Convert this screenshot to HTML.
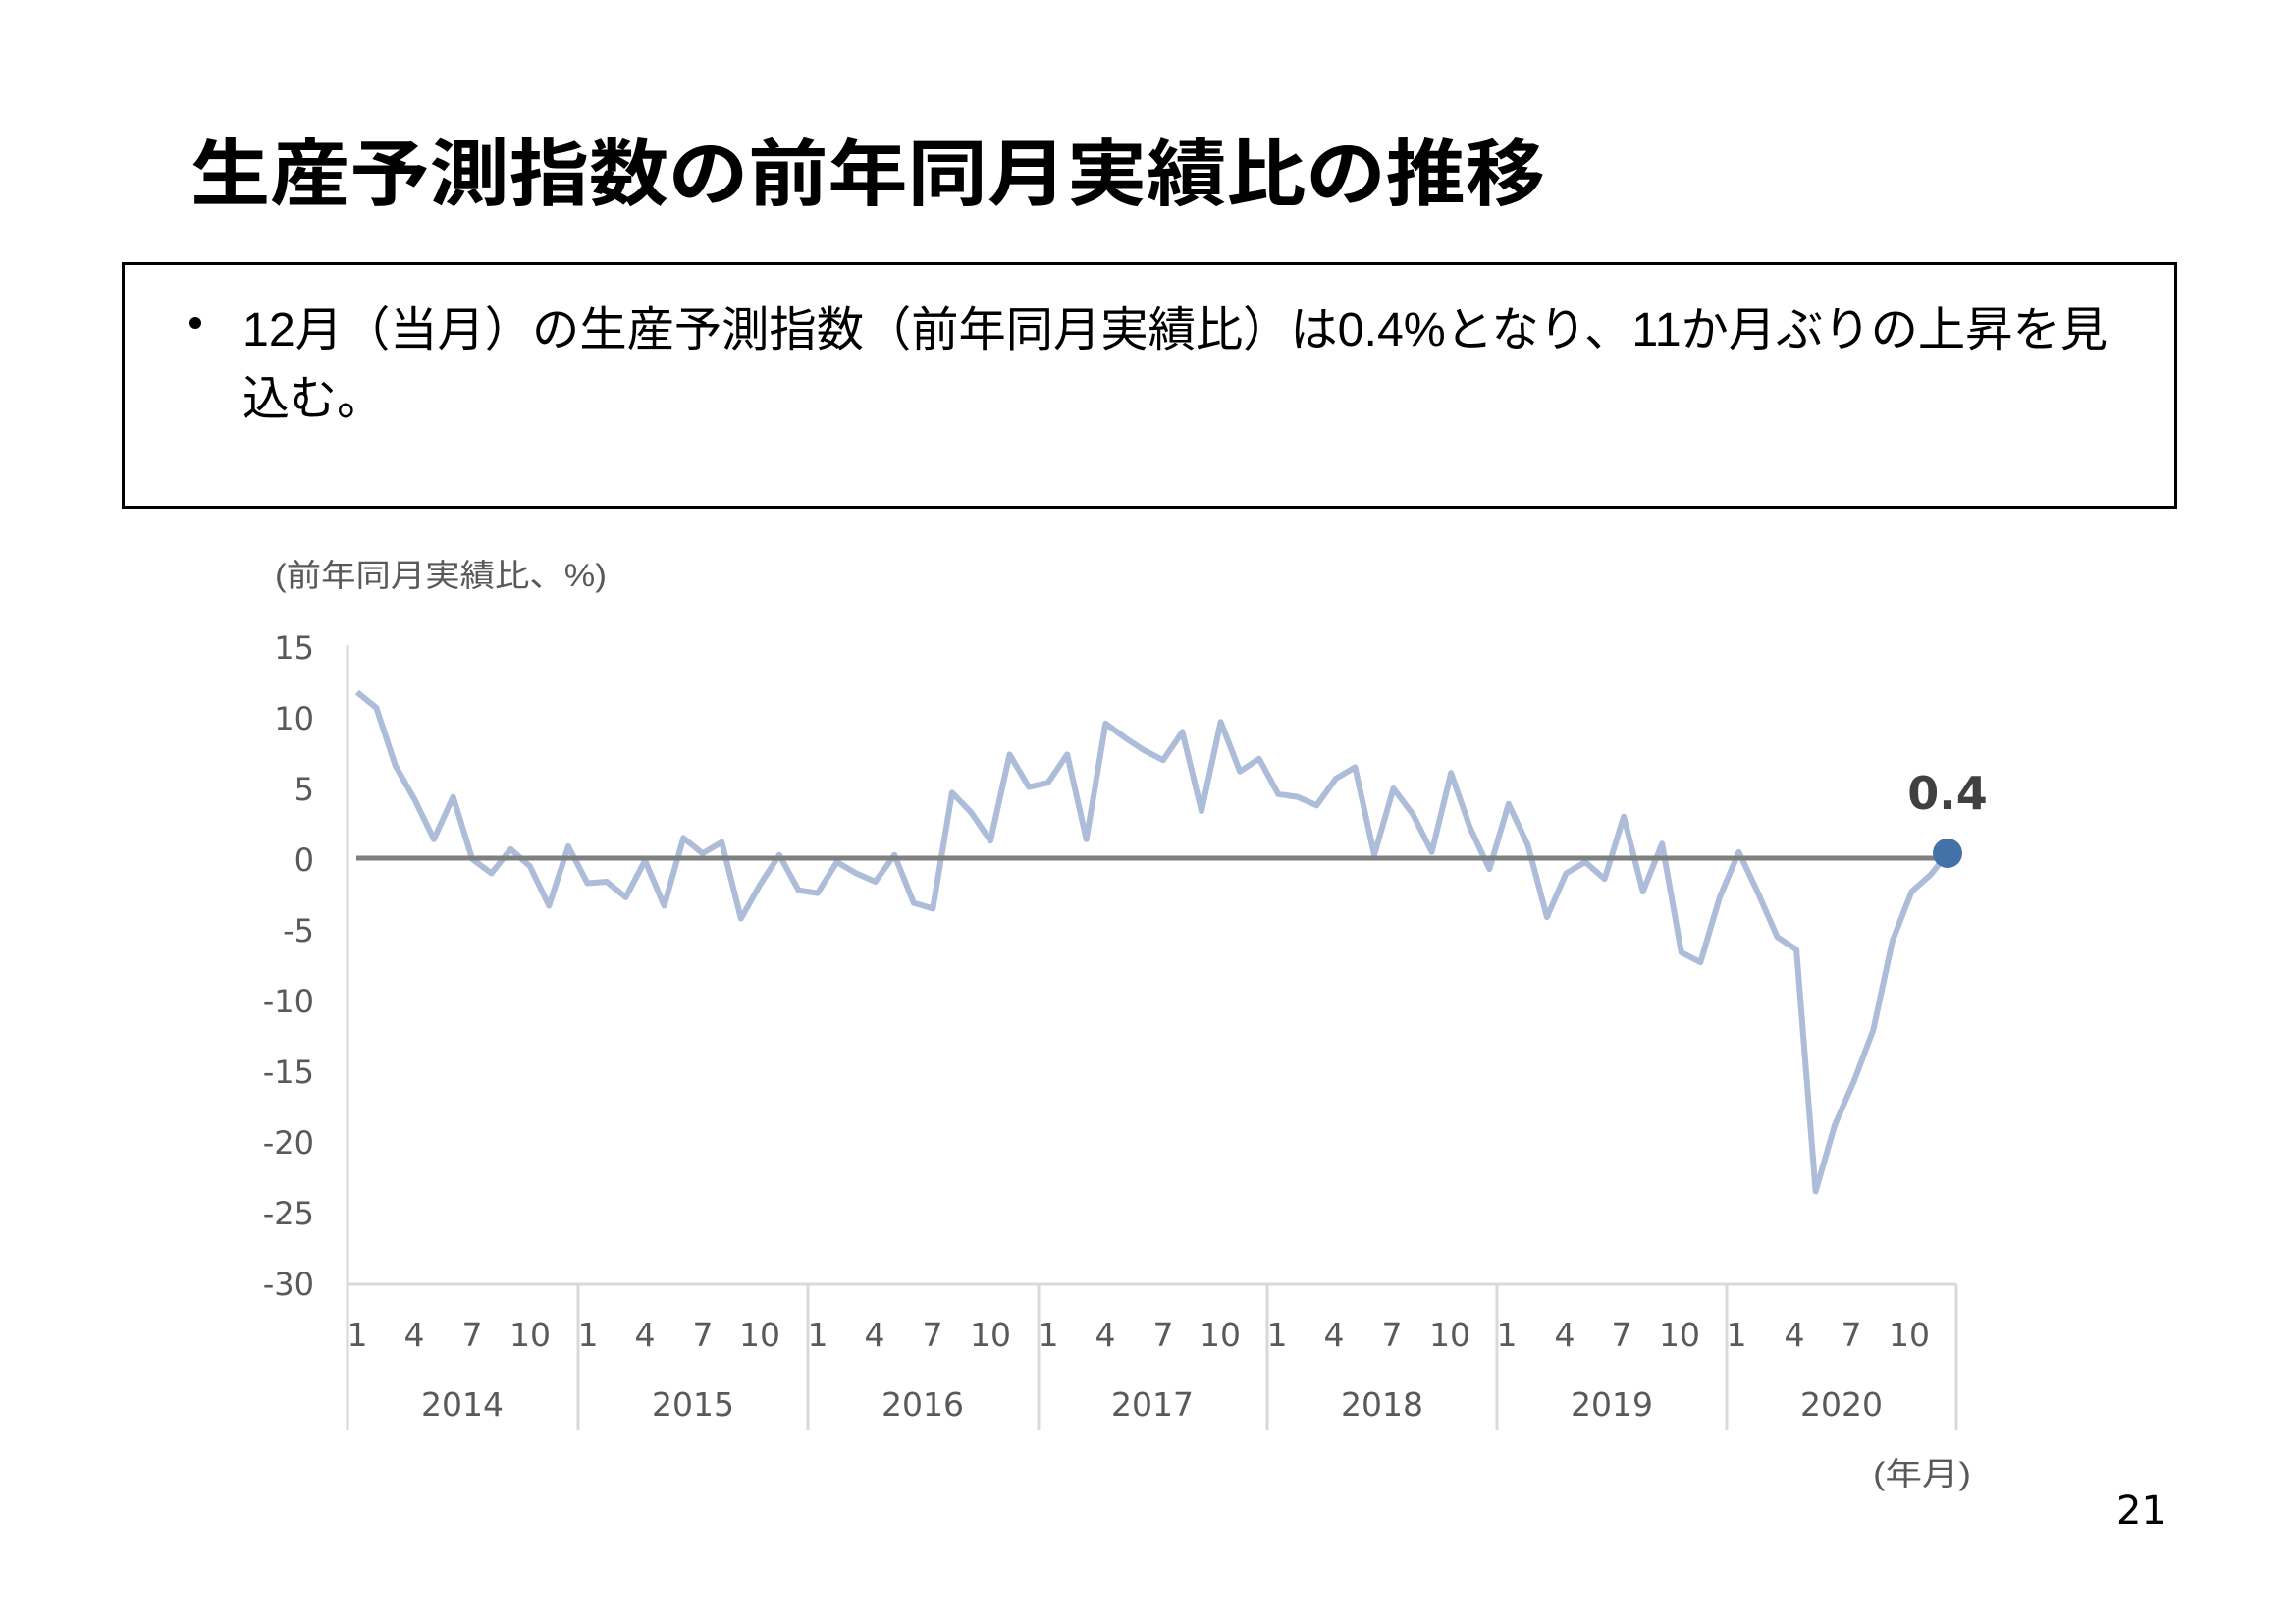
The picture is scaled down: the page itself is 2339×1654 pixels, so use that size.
<!DOCTYPE html>
<html><head><meta charset="utf-8"><style>
html,body{margin:0;padding:0;background:#fff;}
svg{display:block;}
</style></head><body>
<svg width="2339" height="1654" viewBox="0 0 2339 1654" xmlns="http://www.w3.org/2000/svg">
<rect width="2339" height="1654" fill="#fff"/>
<text x="194" y="203" font-family="'Liberation Sans','Noto Sans CJK JP',sans-serif" font-weight="bold" font-size="74" fill="#000" textLength="1380" lengthAdjust="spacingAndGlyphs">生産予測指数の前年同月実績比の推移</text>
<rect x="125.5" y="268.5" width="2091" height="248" fill="none" stroke="#000" stroke-width="3"/>
<circle cx="199" cy="329" r="6" fill="#000"/>
<g font-family="'Liberation Sans','Noto Sans CJK JP',sans-serif" font-size="48" fill="#000">
<text x="247" y="352" textLength="1900" lengthAdjust="spacingAndGlyphs">12月（当月）の生産予測指数（前年同月実績比）は0.4%となり、11か月ぶりの上昇を見</text>
<text x="247" y="422">込む。</text>
</g>
<text x="280" y="597" font-family="'Liberation Sans','Noto Sans CJK JP',sans-serif" font-size="32" fill="#595959" textLength="338" lengthAdjust="spacingAndGlyphs">(前年同月実績比、%)</text>
<g font-family="'DejaVu Sans',sans-serif" font-size="32" fill="#595959" text-anchor="end">
<text x="320" y="671">15</text><text x="320" y="743">10</text><text x="320" y="815">5</text><text x="320" y="887">0</text>
<text x="320" y="959">-5</text><text x="320" y="1031">-10</text><text x="320" y="1103">-15</text><text x="320" y="1175">-20</text>
<text x="320" y="1247">-25</text><text x="320" y="1319">-30</text>
</g>
<g stroke="#d9d9d9" stroke-width="3" fill="none">
<line x1="354" y1="657" x2="354" y2="1456"/>
<line x1="354" y1="1308" x2="1993" y2="1308"/>
<line x1="589" y1="1308" x2="589" y2="1456"/>
<line x1="823" y1="1308" x2="823" y2="1456"/>
<line x1="1058" y1="1308" x2="1058" y2="1456"/>
<line x1="1291" y1="1308" x2="1291" y2="1456"/>
<line x1="1525" y1="1308" x2="1525" y2="1456"/>
<line x1="1759" y1="1308" x2="1759" y2="1456"/>
<line x1="1993" y1="1308" x2="1993" y2="1456"/>
</g>
<g font-family="'DejaVu Sans',sans-serif" font-size="33" fill="#595959" text-anchor="middle">
<text x="364" y="1371">1</text><text x="422" y="1371">4</text><text x="481" y="1371">7</text><text x="540" y="1371">10</text>
<text x="599" y="1371">1</text><text x="657" y="1371">4</text><text x="716" y="1371">7</text><text x="774" y="1371">10</text>
<text x="833" y="1371">1</text><text x="891" y="1371">4</text><text x="950" y="1371">7</text><text x="1009" y="1371">10</text>
<text x="1068" y="1371">1</text><text x="1126" y="1371">4</text><text x="1185" y="1371">7</text><text x="1243" y="1371">10</text>
<text x="1301" y="1371">1</text><text x="1359" y="1371">4</text><text x="1418" y="1371">7</text><text x="1477" y="1371">10</text>
<text x="1535" y="1371">1</text><text x="1594" y="1371">4</text><text x="1652" y="1371">7</text><text x="1711" y="1371">10</text>
<text x="1769" y="1371">1</text><text x="1828" y="1371">4</text><text x="1886" y="1371">7</text><text x="1945" y="1371">10</text>
</g>
<g font-family="'DejaVu Sans',sans-serif" font-size="33" fill="#595959" text-anchor="middle">
<text x="471" y="1442">2014</text><text x="706" y="1442">2015</text><text x="940" y="1442">2016</text>
<text x="1174" y="1442">2017</text><text x="1408" y="1442">2018</text><text x="1642" y="1442">2019</text><text x="1876" y="1442">2020</text>
</g>
<polyline fill="none" stroke="#adbcd9" stroke-width="6" stroke-linejoin="round" points="
363.8,705.1 383.4,720.9 402.9,780.0 422.5,814.5 442.0,854.8 461.6,811.6 481.1,875.0 500.7,889.4 520.2,864.9 539.8,882.2 559.3,922.5 578.9,862.0 598.4,899.5 618.0,898.0 637.5,913.9 657.1,876.4 676.6,922.5 696.2,853.4 715.7,869.2 735.3,857.7 754.8,935.5 774.4,900.9 793.9,870.7 813.5,906.7 833.0,909.6 852.6,877.9 872.1,889.4 891.7,898.0 911.2,870.7 930.8,919.6 950.3,925.4 969.9,807.3 989.4,827.5 1009.0,856.3 1028.5,768.4 1048.1,801.6 1067.6,797.2 1087.2,768.4 1106.7,854.8 1126.3,736.8 1145.8,751.2 1165.4,764.1 1184.9,774.2 1204.5,745.4 1224.0,826.0 1243.6,735.3 1263.1,785.7 1282.7,772.8 1302.2,808.8 1321.8,811.6 1341.3,820.3 1360.9,792.9 1380.4,781.4 1400.0,870.7 1419.5,803.0 1439.1,828.9 1458.6,867.8 1478.2,787.2 1497.7,843.3 1517.3,885.1 1536.8,818.8 1556.4,860.6 1575.9,934.0 1595.5,889.4 1615.0,877.9 1634.6,895.2 1654.1,831.8 1673.7,908.1 1693.2,859.2 1712.8,970.0 1732.3,980.1 1751.9,913.9 1771.4,867.8 1791.0,909.6 1810.5,954.2 1830.1,967.2 1849.6,1213.4 1869.2,1145.7 1888.7,1101.1 1908.3,1049.2 1927.8,958.5 1947.4,908.1 1966.9,890.8 1984.0,869.2"/>
<line x1="363" y1="874" x2="1986" y2="874" stroke="#7f7f7f" stroke-width="5"/>
<circle cx="1984" cy="869" r="15" fill="#4472a8"/>
<text x="1984" y="824" text-anchor="middle" font-family="'DejaVu Sans',sans-serif" font-weight="bold" font-size="46" fill="#404040">0.4</text>
<text x="1908" y="1512" font-family="'Liberation Sans','Noto Sans CJK JP',sans-serif" font-size="32" fill="#595959" textLength="100" lengthAdjust="spacingAndGlyphs">(年月)</text>
<text x="2156" y="1552" font-family="'DejaVu Sans',sans-serif" font-size="40" fill="#000">21</text>
</svg>
</body></html>
